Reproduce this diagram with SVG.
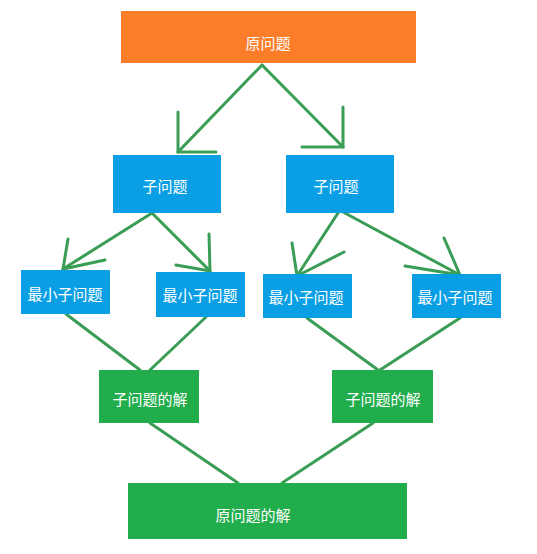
<svg xmlns="http://www.w3.org/2000/svg" width="537" height="554" viewBox="0 0 537 554">
<style>
.lbl{font-family:"Noto Sans CJK SC","Liberation Sans",sans-serif;font-size:15px;fill:#ffffff;text-anchor:middle;dominant-baseline:central}
.conn line,.conn polyline{stroke:#3a9d55;stroke-width:3;fill:none;stroke-linecap:round}
.orange{fill:#fb7d2a}.blue{fill:#0a9fe5}.green{fill:#22ad4c}
</style>
<rect width="537" height="554" fill="#ffffff"/>
<g class="conn">
<line x1="262" y1="65" x2="178" y2="152"/>
<polyline points="178,112 178,152 216,152"/>
<line x1="262" y1="65" x2="343" y2="147"/>
<polyline points="343,107 343,147 302,147"/>
<line x1="152" y1="213" x2="63" y2="269"/>
<polyline points="68,239 63,269 105,260"/>
<line x1="152" y1="213" x2="210" y2="271"/>
<polyline points="209,234 210,271 176,265"/>
<line x1="338" y1="213" x2="297" y2="276"/>
<polyline points="292,243 297,276 344,252"/>
<line x1="343" y1="212" x2="460" y2="275"/>
<polyline points="444,238 460,275 405,266"/>
<line x1="66" y1="314" x2="140" y2="370"/>
<line x1="206" y1="317" x2="150" y2="370"/>
<line x1="307" y1="318" x2="378" y2="370"/>
<line x1="460" y1="318" x2="380" y2="370"/>
<line x1="150" y1="423" x2="238" y2="483"/>
<line x1="373" y1="423" x2="282" y2="483"/>
</g>
<g id="root"><rect class="orange" x="121" y="11" width="295" height="52"/><text class="lbl" x="268" y="42">原问题</text></g>
<g id="sub1"><rect class="blue" x="113" y="155" width="108" height="58"/><text class="lbl" x="165" y="185">子问题</text></g>
<g id="sub2"><rect class="blue" x="286" y="155" width="108" height="58"/><text class="lbl" x="336" y="185">子问题</text></g>
<g id="min1"><rect class="blue" x="21" y="270" width="89" height="44"/><text class="lbl" x="65" y="293">最小子问题</text></g>
<g id="min2"><rect class="blue" x="156" y="272" width="89" height="45"/><text class="lbl" x="200" y="294">最小子问题</text></g>
<g id="min3"><rect class="blue" x="263" y="274" width="89" height="44"/><text class="lbl" x="306" y="296">最小子问题</text></g>
<g id="min4"><rect class="blue" x="412" y="274" width="89" height="44"/><text class="lbl" x="455" y="296">最小子问题</text></g>
<g id="sol1"><rect class="green" x="99" y="370" width="100" height="53"/><text class="lbl" x="150" y="398">子问题的解</text></g>
<g id="sol2"><rect class="green" x="332" y="370" width="101" height="53"/><text class="lbl" x="383" y="398">子问题的解</text></g>
<g id="final"><rect class="green" x="128" y="483" width="279" height="56"/><text class="lbl" x="253" y="514">原问题的解</text></g>
</svg>
